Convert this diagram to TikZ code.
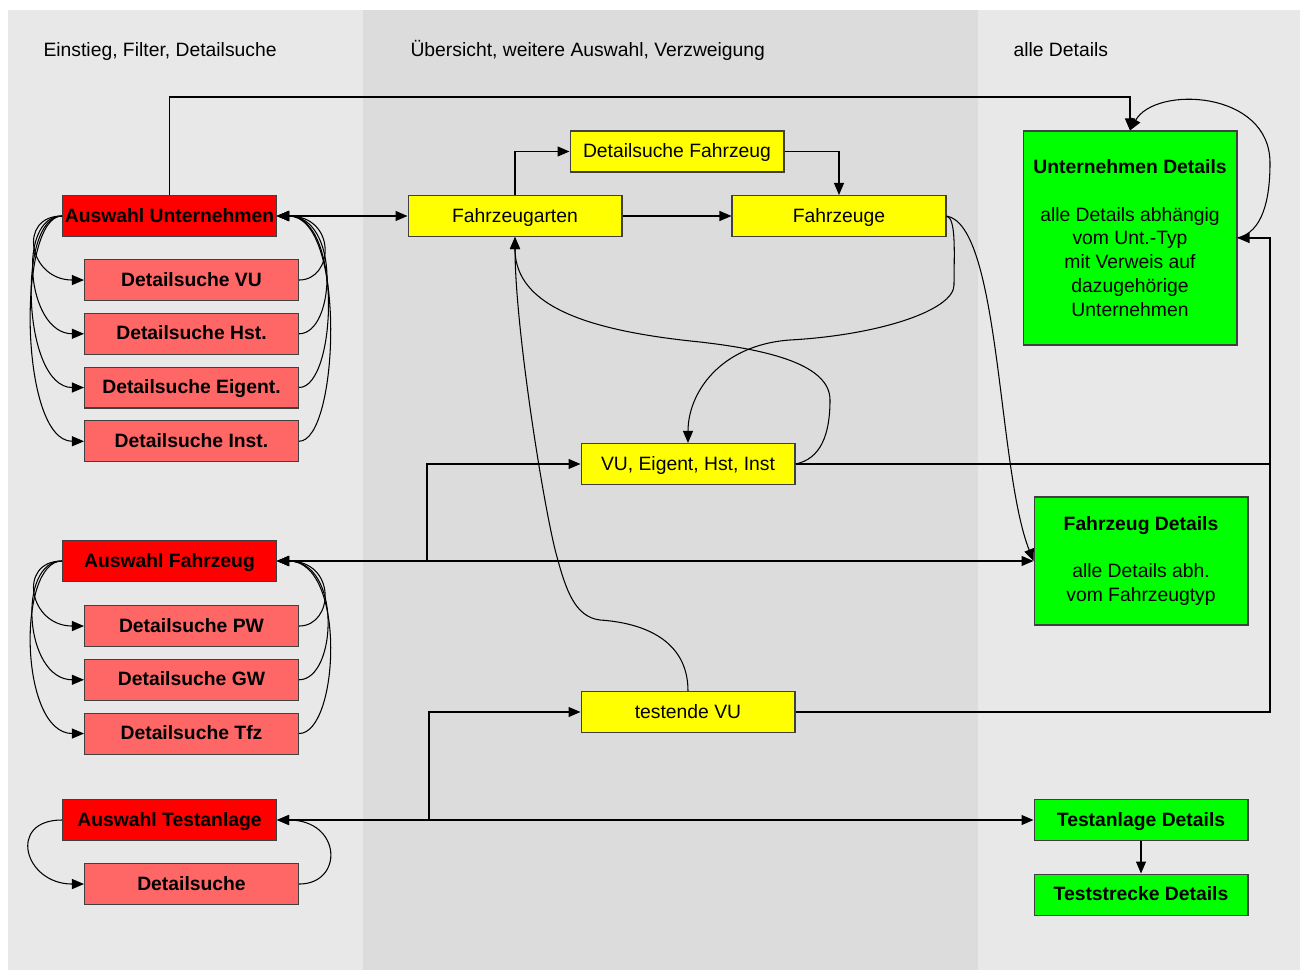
\documentclass[tikz,border=0pt]{standalone}
\usepackage{fontspec}
\setmainfont{Liberation Sans}
\usetikzlibrary{positioning,arrows.meta}
\definecolor{spalte}{HTML}{E8E8E8}
\definecolor{spaltemitte}{HTML}{DCDCDC}
\definecolor{auswahlrot}{HTML}{FF0000}
\definecolor{sucherot}{HTML}{FF6666}
\definecolor{sichtgelb}{HTML}{FFFF00}
\definecolor{detailgruen}{HTML}{00FF00}
\definecolor{rahmen}{HTML}{404040}

\begin{document}
\begin{tikzpicture}[x=0.02cm, y=-0.02cm, line width=0.6pt, node distance=0.234cm,
	>={Triangle[length=2.4mm,width=2mm]},
	box/.style={draw=rahmen, minimum width=4.28cm, minimum height=0.82cm, inner sep=0pt, font=\fontsize{11}{13.5}\selectfont},
	zeile/.style={text height=8pt, text depth=1pt},
	auswahl/.style={box, zeile, fill=auswahlrot, font=\fontsize{11}{13.5}\selectfont\bfseries},
	suche/.style={box, zeile, fill=sucherot, font=\fontsize{11}{13.5}\selectfont\bfseries},
	sicht/.style={box, zeile, fill=sichtgelb},
	detail/.style={box, fill=detailgruen, align=center},
	detailkopf/.style={detail, zeile, font=\fontsize{11}{13.5}\selectfont\bfseries},
	kopf/.style={anchor=west, inner sep=0pt, zeile, font=\fontsize{11}{13.5}\selectfont}]
		\useasboundingbox (0,0) rectangle (1304,972);
		\fill[white] (0,0) rectangle (1304,972);
		\fill[spalte] (8,10) rectangle (363,970);
		\fill[spaltemitte] (363,10) rectangle (978,970);
		\fill[spalte] (978,10) rectangle (1300,970);

		\node[kopf] (hLinks) at (43,50) {Einstieg, Filter, Detailsuche};
		\node[kopf] (hMitte) at (410,50) {Übersicht, weitere Auswahl, Verzweigung};
		\node[kopf] (hRechts) at (1013,50) {alle Details};

		\node[auswahl] (aU) at (169.5,216) {Auswahl Unternehmen};
		\node[suche] (dVU) [below=0.44cm of aU, xshift=0.44cm] {Detailsuche VU};
		\node[suche] (dHst) [below=of dVU] {Detailsuche Hst.};
		\node[suche] (dEig) [below=of dHst] {Detailsuche Eigent.};
		\node[suche] (dInst) [below=of dEig] {Detailsuche Inst.};

		\node[auswahl] (aF) at (169.5,561) {Auswahl Fahrzeug};
		\node[suche] (dPW) [below=0.46cm of aF, xshift=0.44cm] {Detailsuche PW};
		\node[suche] (dGW) [below=of dPW] {Detailsuche GW};
		\node[suche] (dTfz) [below=of dGW] {Detailsuche Tfz};

		\node[auswahl] (aT) at (169.5,820) {Auswahl Testanlage};
		\node[suche] (dTest) [below=0.44cm of aT, xshift=0.44cm] {Detailsuche};

		\node[sicht] (fArten) at (515,216) {Fahrzeugarten};
		\node[sicht] (dFzg) at (677,151.5) {Detailsuche Fahrzeug};
		\node[sicht] (fzg) [right=2.18cm of fArten] {Fahrzeuge};
		\node[sicht] (vuE) at (688,464) {VU, Eigent, Hst, Inst};
		\node[sicht] (tVU) at (688,712) {testende VU};

		\node[detail, minimum height=4.28cm] (uDet) at (1130,238) {\textbf{Unternehmen Details}\\[13.5pt]alle Details abhängig\\vom Unt.-Typ\\mit Verweis auf\\dazugehörige\\Unternehmen};
		\node[detail, minimum height=2.56cm] (fDet) at (1141,561) {\textbf{Fahrzeug Details}\\[13.5pt]alle Details abh.\\vom Fahrzeugtyp};
		\node[detailkopf] (taDet) at (1141,820) {Testanlage Details};
		\node[detailkopf] (tsDet) [below=0.65cm of taDet] {Teststrecke Details};

		\coordinate (oben) at (0,97);
		\coordinate (rechts) at (1270,0);
		\coordinate (abzF) at (427,561);
		\coordinate (abzT) at (429,820);

		\draw[->] (aU.north) -- (aU.north |- oben) -| (uDet.north);
		\draw[<->] (aU.east) -- (fArten.west);
		\draw[->] (fArten.north) |- (dFzg.west);
		\draw[->] (dFzg.east) -| (fzg.north);
		\draw[->] (fArten.east) -- (fzg.west);
		\draw[<->] (aF.east) -- (fDet.west);
		\draw[->] (abzF) |- (vuE.west);
		\draw[<->] (aT.east) -- (taDet.west);
		\draw[->] (abzT) |- (tVU.west);
		\draw[->] (taDet) -- (tsDet);
		\draw[->] (vuE.east) -- (vuE.east -| rechts) |- (uDet.east);
		\draw (tVU.east) -- (tVU.east -| rechts) -- (vuE.east -| rechts);

		\draw[->] (aU.west) .. controls +(-45,0) and +(-55,0) .. (dVU.west);
		\draw[->] (aU.west) .. controls +(-45,0) and +(-58,0) .. (dHst.west);
		\draw[->] (aU.west) .. controls +(-45,0) and +(-62,0) .. (dEig.west);
		\draw[->] (aU.west) .. controls +(-45,0) and +(-65,0) .. (dInst.west);
		\draw[->] (dVU.east) .. controls +(35,0) and +(60,0) .. (aU.east);
		\draw[->] (dHst.east) .. controls +(37,0) and +(63,0) .. (aU.east);
		\draw[->] (dEig.east) .. controls +(38,0) and +(66,0) .. (aU.east);
		\draw[->] (dInst.east) .. controls +(40,0) and +(70,0) .. (aU.east);

		\draw[->] (aF.west) .. controls +(-45,0) and +(-55,0) .. (dPW.west);
		\draw[->] (aF.west) .. controls +(-45,0) and +(-60,0) .. (dGW.west);
		\draw[->] (aF.west) .. controls +(-45,0) and +(-65,0) .. (dTfz.west);
		\draw[->] (dPW.east) .. controls +(35,0) and +(60,0) .. (aF.east);
		\draw[->] (dGW.east) .. controls +(38,0) and +(65,0) .. (aF.east);
		\draw[->] (dTfz.east) .. controls +(40,0) and +(70,0) .. (aF.east);

		\draw[->] (aT.west) .. controls +(-55,0) and +(-60,0) .. (dTest.west);
		\draw[->] (dTest.east) .. controls +(45,0) and +(65,0) .. (aT.east);

		\draw[->] (fzg.east) .. controls +(10,2) and +(0,-30) .. (954,285) .. controls +(0,25) and +(90,-5) .. (790,340) .. controls +(-70,5) and +(0,-50) .. (vuE.north);
		\draw[->] (fzg.east) .. controls +(54,9) and +(-36,-91) .. (fDet.west);
		\draw[->] (vuE.east) .. controls +(25,-5) and +(0,35) .. (830,400) .. controls +(0,-35) and +(70,8) .. (700,342) .. controls +(-110,-11) and +(0,70) .. (fArten.south);
		\draw[->] (tVU.north) .. controls +(0,-50) and +(45,3) .. (600,620) .. controls +(-25,-3) and +(9,33) .. (557,557) .. controls +(-12,-42) and +(0,93) .. (fArten.south);
		\draw[->] (uDet.east) .. controls +(25,-6) and +(0,37) .. (1270,163) .. controls +(0,-73) and +(25,-45) .. (uDet.north);
\end{tikzpicture}
\end{document}
